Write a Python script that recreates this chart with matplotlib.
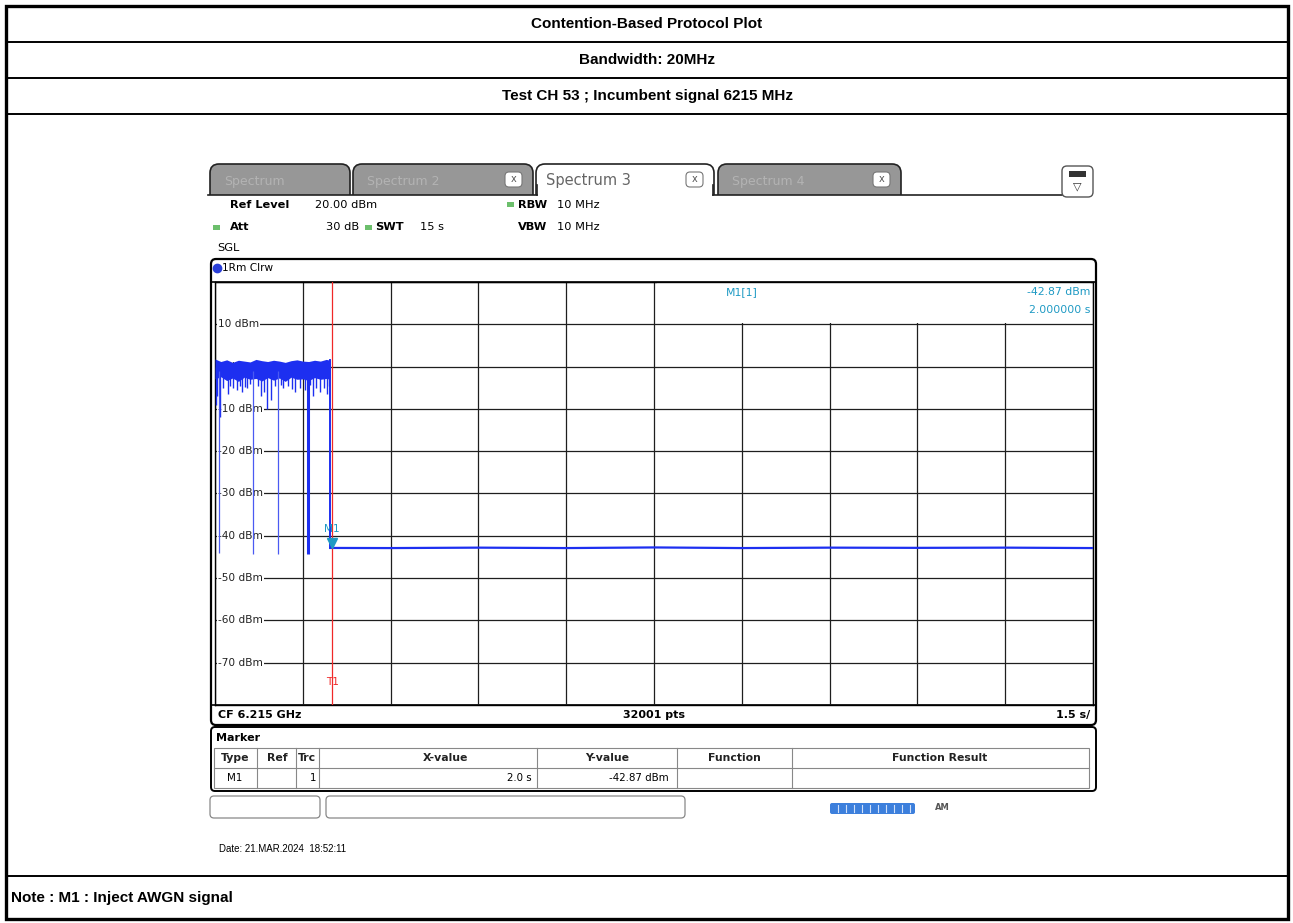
import numpy as np
import matplotlib as mpl
mpl.use('Agg')
import matplotlib.pyplot as plt  # noqa
from matplotlib.patches import FancyBboxPatch, Rectangle
from matplotlib.transforms import offset_copy

W, H = 1293, 923

# table texts
table_rows = ["Contention-Based Protocol Plot",
              "Bandwidth: 20MHz",
              "Test CH 53 ; Incumbent signal 6215 MHz"]
note_text = "Note : M1 : Inject AWGN signal"

# analyzer settings
ref_level = 20
bottom_level = -80
sweep_time = 15.0
sec_per_div = 1.5
level_labels = [10, 0, -10, -20, -30, -40, -50, -60, -70]

# burst before the AWGN injection
band_t = [0.00, 0.10, 0.20, 0.30, 0.40, 0.50, 0.60, 0.70, 0.80, 0.90, 1.00,
          1.10, 1.20, 1.30, 1.40, 1.50, 1.60, 1.70, 1.80, 1.90, 1.97]
band_top = [1.8, 1.2, 1.6, 1.0, 1.5, 1.3, 1.1, 1.7, 1.4, 1.2, 1.5,
            1.3, 1.0, 1.4, 1.6, 1.3, 1.2, 1.5, 1.3, 1.7, 1.5]
band_bot = [-2.9, -2.4, -3.3, -2.7, -3.5, -2.5, -3.0, -2.8, -3.4, -2.6, -3.2,
            -2.7, -3.5, -2.5, -3.0, -2.9, -3.3, -2.6, -3.0, -2.8, -3.0]

spike_t = [0.02, 0.04, 0.09, 0.14, 0.22, 0.26, 0.30, 0.37, 0.42, 0.46, 0.51,
           0.55, 0.60, 0.73, 0.78, 0.84, 0.89, 0.96, 1.02, 1.12, 1.16, 1.25,
           1.31, 1.36, 1.45, 1.54, 1.62, 1.67, 1.73, 1.79, 1.86, 1.91, 1.95]
spike_lvl = [-9, -7, -12, -5, -6.5, -4.5, -5, -5.6, -4.5, -6, -4.8,
             -5, -4.2, -4.6, -7, -6, -10, -8, -4.5, -4.4, -5, -4.5,
             -5.2, -6, -5, -5.5, -4.3, -7, -5, -6, -5, -6.5, -4.6]

deep_t = [0.07, 0.65, 1.08]
deep_lvl = [-44.0, -44.2, -44.2]
thick_t = 1.59
thick_lvl = -44.3

# after injection
flat_t = [1.97, 3.0, 4.5, 6.0, 7.5, 9.0, 10.5, 12.0, 13.5, 15.0]
flat_lvl = [-42.87, -42.9, -42.8, -42.9, -42.75, -42.9, -42.8, -42.85, -42.8, -42.9]

m1_t = 2.0
m1_lvl = -42.87
t1_t = 2.0

blue = '#1d2ff0'
teal = '#1f9ac4'
red = '#f02828'
green = '#6cbf6c'

fig = plt.figure(figsize=(W / 100, H / 100), dpi=100)
bg = fig.add_axes([0, 0, 1, 1])
bg.set_xlim(0, W)
bg.set_ylim(H, 0)
bg.axis('off')

# ---- outer table ----
bg.add_patch(Rectangle((6, 6), 1282, 913, fill=False, lw=2.4, ec='black'))
for y in [42, 78, 114, 876]:
    bg.plot([6, 1288], [y, y], color='black', lw=1.4)
for y, txt in zip([24, 60, 96], table_rows):
    bg.text(647, y, txt, ha='center', va='center', fontsize=11,
            fontweight='bold', family='Liberation Sans')
bg.text(11, 898, note_text, ha='left', va='center', fontsize=11,
        fontweight='bold', family='Liberation Sans')

# ---- analyzer tabs ----
tabs = [(210, 140, 'Spectrum', False), (353, 180, 'Spectrum 2', True),
        (536, 178, 'Spectrum 3', True), (718, 183, 'Spectrum 4', True)]
for x0, w, name, closable in tabs:
    active = name == 'Spectrum 3'
    bg.add_patch(FancyBboxPatch((x0, 164), w, 40,
                                boxstyle='round,pad=0,rounding_size=9',
                                fc='white' if active else '#979797',
                                ec='#222222', lw=1.2, zorder=2))
    bg.text(x0 + 14 if not active else x0 + 10, 181, name, ha='left',
            va='center', fontsize=10.5 if active else 9,
            color='#666666' if active else '#b3b3b3', zorder=4)
    if closable:
        bx = x0 + w - 28
        bg.add_patch(FancyBboxPatch((bx, 172), 17, 15,
                                    boxstyle='round,pad=0,rounding_size=4',
                                    fc='white', ec='#777777', lw=0.8,
                                    zorder=4))
        bg.text(bx + 8.5, 179.5, 'x', ha='center', va='center',
                fontsize=7, color='#555555', zorder=5)
bg.add_patch(Rectangle((205, 195), 893, 65, fc='white', ec='none', zorder=3))
bg.add_patch(Rectangle((537, 190), 176, 8, fc='white', ec='none', zorder=3))
bg.plot([208, 537], [195, 195], color='#222222', lw=1.2, zorder=4)
bg.plot([713, 1062], [195, 195], color='#222222', lw=1.2, zorder=4)
bg.plot([537, 537], [185, 195], color='#222222', lw=1.2, zorder=4)
bg.plot([713, 713], [185, 195], color='#222222', lw=1.2, zorder=4)
# menu icon
bg.add_patch(FancyBboxPatch((1062, 166), 31, 31,
                            boxstyle='round,pad=0,rounding_size=5',
                            fc='white', ec='#555555', lw=1.0, zorder=4))
bg.add_patch(Rectangle((1069, 171), 17, 6, fc='#333333', ec='none', zorder=5))
bg.text(1077.5, 186, '\u25bd', ha='center', va='center', fontsize=8,
        color='#333333', zorder=5)

# ---- settings strip ----
fs_info = 8.2
bg.text(230, 205, 'Ref Level', fontweight='bold', fontsize=fs_info,
        va='center', zorder=5)
bg.text(315, 205, '20.00 dBm', fontsize=fs_info, va='center', zorder=5)
bg.add_patch(Rectangle((507, 202), 7, 5, fc=green, ec='none', zorder=5))
bg.text(518, 205, 'RBW', fontweight='bold', fontsize=fs_info, va='center',
        zorder=5)
bg.text(557, 205, '10 MHz', fontsize=fs_info, va='center', zorder=5)
bg.add_patch(Rectangle((213, 225), 7, 5, fc=green, ec='none', zorder=5))
bg.text(230, 227, 'Att', fontweight='bold', fontsize=fs_info, va='center',
        zorder=5)
bg.text(359, 227, '30 dB', fontsize=fs_info, va='center', ha='right',
        zorder=5)
bg.add_patch(Rectangle((365, 225), 7, 5, fc=green, ec='none', zorder=5))
bg.text(375, 227, 'SWT', fontweight='bold', fontsize=fs_info, va='center',
        zorder=5)
bg.text(420, 227, '15 s', fontsize=fs_info, va='center', zorder=5)
bg.text(518, 227, 'VBW', fontweight='bold', fontsize=fs_info, va='center',
        zorder=5)
bg.text(557, 227, '10 MHz', fontsize=fs_info, va='center', zorder=5)
bg.text(217, 248, 'SGL', fontsize=fs_info, va='center', zorder=5)

# ---- diagram frame ----
bg.add_patch(FancyBboxPatch((211, 259), 885, 466,
                            boxstyle='round,pad=0,rounding_size=5',
                            fc='none', ec='black', lw=1.6, zorder=5))
bg.plot([211, 1096], [282, 282], color='black', lw=1.2, zorder=5)
bg.plot([211, 1096], [705, 705], color='black', lw=1.2, zorder=5)
bg.plot([217], [268], 'o', ms=6, color='#2a3fd8', zorder=6)
bg.text(222, 268, '1Rm Clrw', fontsize=7.6, va='center', zorder=6)
bg.text(218, 715, 'CF 6.215 GHz', fontsize=8, fontweight='bold',
        va='center', zorder=6)
bg.text(654, 715, '32001 pts', fontsize=8, fontweight='bold',
        va='center', ha='center', zorder=6)
bg.text(1090, 715, '1.5 s/', fontsize=8, fontweight='bold',
        va='center', ha='right', zorder=6)

# ---- marker table ----
bg.add_patch(FancyBboxPatch((211, 727), 885, 64,
                            boxstyle='round,pad=0,rounding_size=4',
                            fc='none', ec='black', lw=1.4, zorder=5))
bg.text(216, 738, 'Marker', fontsize=8, fontweight='bold', va='center')
bg.add_patch(Rectangle((214, 748), 875, 40, fc='none', ec='#888888',
                       lw=0.8))
bg.plot([214, 1089], [768, 768], color='#888888', lw=0.8)
col_edges = [257, 296, 319, 537, 677, 792]
for x in col_edges:
    bg.plot([x, x], [748, 788], color='#888888', lw=0.8)
heads = [(235, 'Type'), (277, 'Ref'), (307, 'Trc'), (445, 'X-value'),
         (607, 'Y-value'), (734, 'Function'), (940, 'Function Result')]
for x, h in heads:
    bg.text(x, 758, h, fontsize=7.8, va='center', ha='center',
            fontweight='bold', color='#222222')
bg.text(235, 778, 'M1', fontsize=7.4, va='center', ha='center')
bg.text(316, 778, '1', fontsize=7.4, va='center', ha='right')
bg.text(532, 778, '2.0 s', fontsize=7.4, va='center', ha='right')
bg.text(669, 778, '-42.87 dBm', fontsize=7.4, va='center', ha='right')

# ---- status bar ----
bg.add_patch(FancyBboxPatch((210, 796), 110, 22,
                            boxstyle='round,pad=0,rounding_size=4',
                            fc='white', ec='#888888', lw=0.9))
bg.add_patch(FancyBboxPatch((326, 796), 359, 22,
                            boxstyle='round,pad=0,rounding_size=4',
                            fc='white', ec='#888888', lw=0.9))
bg.add_patch(FancyBboxPatch((830, 803), 85, 11,
                            boxstyle='round,pad=0,rounding_size=2',
                            fc='#3c7fdc', ec='none'))
for x in np.arange(838, 912, 8):
    bg.plot([x, x], [805, 812], color='#cfe0fb', lw=0.8)
bg.text(935, 808, 'AM', fontsize=6, va='center', ha='left',
        color='#555555', fontweight='bold')
bg.text(219, 849, 'Date: 21.MAR.2024  18:52:11', fontsize=7,
        family='Liberation Sans', va='center')

# ---- spectrum diagram ----
ax = fig.add_axes([215 / W, 1 - 705 / H, 878 / W, 423 / H])
ax.set_xlim(0, sweep_time)
ax.set_ylim(bottom_level, ref_level)
ax.set_xticks(np.arange(0, sweep_time + 0.01, sec_per_div))
ax.set_yticks(np.arange(bottom_level, ref_level + 1, 10))
ax.tick_params(length=0, labelbottom=False, labelleft=False)
ax.set_axisbelow(True)
ax.grid(True, color='#1e1e1e', lw=0.9)
for s in ax.spines.values():
    s.set_color('black')
    s.set_linewidth(1.0)
ax.patch.set_alpha(0)

# marker info field hides the grid in the top right division row
ax.add_patch(Rectangle((0.503, 0.903), 0.495, 0.095,
                       transform=ax.transAxes, fc='white', ec='none',
                       zorder=2))

for lv in level_labels:
    ax.text(0.05, lv, '%d dBm' % lv, fontsize=7.6, ha='left', va='center',
            color='#222222', zorder=3,
            bbox=dict(fc='white', ec='none', pad=0.6))

ax.fill_between(band_t, band_bot, band_top, color=blue, lw=0, zorder=5)
ax.vlines(spike_t, spike_lvl, 0, color=blue, lw=1.0, zorder=5)
ax.vlines(deep_t, deep_lvl, -1, color='#4a5af2', lw=0.9, zorder=5)
ax.vlines(thick_t, thick_lvl, -1, color=blue, lw=2.2, zorder=5)
ax.plot([band_t[-1], band_t[-1]], [band_top[-1], flat_lvl[0]], color=blue,
        lw=1.4, zorder=5)
ax.plot(flat_t, flat_lvl, color=blue, lw=1.6, zorder=5)

ax.axvline(t1_t, color=red, lw=0.9, zorder=6)
ax.text(t1_t, -74.6, 'T1', color=red, fontsize=7.6, ha='center',
        va='center', zorder=7)
tri = offset_copy(ax.transData, fig=fig, x=0, y=4.5, units='dots')
ax.plot([m1_t], [m1_lvl], marker='v', ms=7, color=teal, transform=tri,
        zorder=8)
ax.text(m1_t, -38.3, 'M1', color=teal, fontsize=7.6, ha='center',
        va='center', zorder=8)

ax.text(0.582, 0.976, 'M1[1]', transform=ax.transAxes, color=teal,
        fontsize=7.8, ha='left', va='center', zorder=4)
ax.text(0.997, 0.976, '%.2f dBm' % m1_lvl, transform=ax.transAxes,
        color=teal, fontsize=7.8, ha='right', va='center', zorder=4)
ax.text(0.997, 0.933, '%.6f s' % m1_t, transform=ax.transAxes,
        color=teal, fontsize=7.8, ha='right', va='center', zorder=4)

fig.savefig('out.png', dpi=100)
